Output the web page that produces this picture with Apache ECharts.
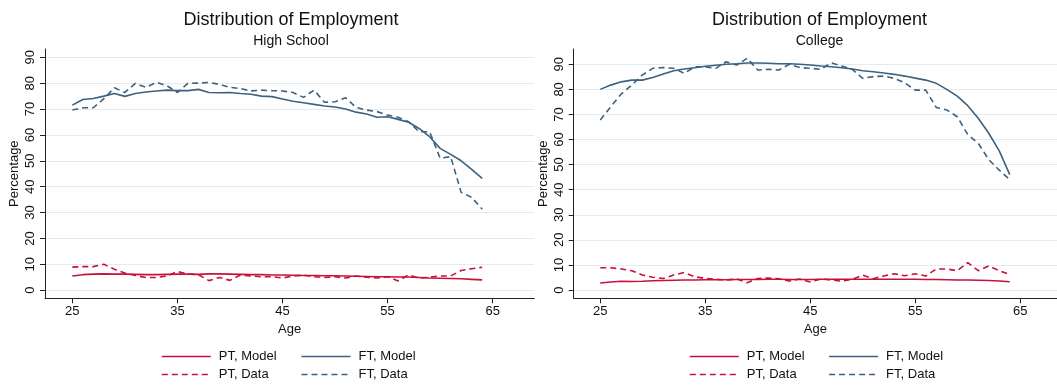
<!DOCTYPE html>
<html><head><meta charset="utf-8">
<script src="https://cdn.jsdelivr.net/npm/echarts@6/dist/echarts.min.js"></script>
<style>html,body{margin:0;padding:0;background:#fff}#c{width:1057px;height:385px}</style>
</head><body><div id="c"></div>
<script>
const ages = [25,26,27,28,29,30,31,32,33,34,35,36,37,38,39,40,41,42,43,44,45,46,47,48,49,50,51,52,53,54,55,56,57,58,59,60,61,62,63,64];
const yTicks = [0,10,20,30,40,50,60,70,80,90];
const xTicks = [25,35,45,55,65];
const seriesNames = ['PT, Model','FT, Model','PT, Data','FT, Data'];
const panelTitles = ['Distribution of Employment','Distribution of Employment'];
const panelSubtitles = ['High School','College'];

// High School
const hsPTModel = [5.5,6.0,6.2,6.3,6.2,6.2,6.1,6.0,6.0,6.1,6.2,6.2,6.1,6.3,6.3,6.2,6.1,6.0,6.0,5.9,5.9,5.8,5.7,5.7,5.6,5.6,5.5,5.4,5.3,5.2,5.2,5.1,5.1,4.9,4.7,4.6,4.5,4.4,4.2,4.0];
const hsFTModel = [71.5,73.7,74.1,75.0,76.0,74.9,76.0,76.6,77.0,77.3,77.1,77.1,77.6,76.4,76.3,76.4,76.0,75.7,75.0,74.8,73.9,73.0,72.4,71.8,71.2,70.8,70.0,68.8,68.1,66.8,67.0,66.0,64.9,62.5,59.3,54.8,52.5,50.0,46.7,43.2];
const hsPTData = [8.9,9.1,9.1,10.0,8.1,6.6,5.7,4.9,4.9,5.5,7.2,6.3,6.0,3.7,4.9,3.8,5.9,5.5,5.2,5.2,4.7,5.5,5.8,5.2,4.9,5.2,4.7,5.5,5.0,4.7,5.2,3.6,5.9,4.7,5.0,5.5,5.5,7.6,8.3,8.9];
const hsFTData = [69.6,70.5,70.5,74.0,78.2,76.4,79.9,78.4,80.3,79.0,76.4,79.9,80.0,80.3,79.5,78.4,77.9,77.0,77.3,77.1,77.0,76.4,74.5,77.3,72.6,72.8,74.4,70.6,69.6,69.0,67.7,66.8,65.1,61.2,61.2,51.0,51.6,37.8,35.9,31.3];

// College
const coPTModel = [2.8,3.2,3.5,3.4,3.5,3.7,3.8,3.9,4.0,4.0,4.1,4.1,4.1,4.2,4.2,4.2,4.3,4.3,4.2,4.2,4.2,4.3,4.3,4.3,4.3,4.3,4.3,4.3,4.3,4.3,4.3,4.2,4.2,4.1,4.0,4.0,3.9,3.8,3.6,3.3];
const coFTModel = [80.0,81.7,83.0,83.7,83.7,84.7,86.1,87.4,88.1,88.6,89.2,89.6,90.0,90.2,90.5,90.5,90.4,90.2,90.2,90.0,89.7,89.3,89.0,88.6,88.1,87.4,87.0,86.5,86.0,85.3,84.5,83.7,82.4,80.0,77.3,73.5,68.5,62.5,55.5,46.0];
const coPTData = [8.9,8.9,8.4,7.7,6.0,5.1,4.6,6.0,7.0,5.3,4.6,4.3,4.0,4.4,2.9,4.6,4.8,4.5,3.6,4.4,3.2,4.4,4.0,3.5,4.3,5.9,4.5,5.6,6.5,5.7,6.5,5.6,8.4,8.4,7.7,10.9,7.7,9.6,7.7,6.2];
const coFTData = [67.8,73.1,78.2,81.7,85.7,88.4,88.7,88.4,86.4,89.0,89.0,88.4,91.0,89.7,92.4,87.7,88.0,87.7,90.0,88.7,88.4,88.0,90.6,89.3,88.0,84.4,85.1,85.3,84.4,82.6,79.7,79.7,72.8,71.8,69.1,62.0,58.5,52.0,47.8,44.0];

const RED = '#c8103c', BLUE = '#3c6280';
const FONT = 'Liberation Sans, Arial, sans-serif';
const panels = [
  {vals:[hsPTModel,hsFTModel,hsPTData,hsFTData], grid:{left:45, top:49, width:489.3, height:249.3}, x:[22.4,68.96], y:[-3.13,93.2], tx:286, legX:[161,300.7]},
  {vals:[coPTModel,coFTModel,coPTData,coFTData], grid:{left:573.7, top:49, width:483.3, height:249.3}, x:[22.47,68.5], y:[-3.3,96.1], tx:814.5, legX:[689,828.3]}
];
const styles = [
  {color:RED, type:'solid'},{color:BLUE, type:'solid'},
  {color:RED, type:[6,4]},{color:BLUE, type:[6,4]}
];
// legend placement: [series index, column, row]
const legendCells = [[0,0,0],[1,1,0],[2,0,1],[3,1,1]];
const legendRowTop = [350,368];

const option = {
  animation:false,
  backgroundColor:'#fff',
  title:[], grid:[], xAxis:[], yAxis:[], series:[], legend:[]
};
panels.forEach((p,i)=>{
  option.title.push({text:panelTitles[i], left:p.tx, top:6, textAlign:'center',
    textStyle:{fontFamily:FONT, fontSize:18, fontWeight:'normal', color:'#111'}});
  option.title.push({text:panelSubtitles[i], left:p.tx, top:29, textAlign:'center',
    textStyle:{fontFamily:FONT, fontSize:14, fontWeight:'normal', color:'#111'}});
  option.grid.push(p.grid);
  option.xAxis.push({type:'value', gridIndex:i, min:p.x[0], max:p.x[1],
    name:'Age', nameLocation:'middle', nameGap:20,
    nameTextStyle:{fontFamily:FONT, fontSize:13, color:'#111'},
    axisLine:{show:true, onZero:false, lineStyle:{color:'#222', width:1}},
    axisTick:{show:true, length:5, customValues:xTicks, lineStyle:{color:'#222'}},
    axisLabel:{customValues:xTicks, fontFamily:FONT, fontSize:13, color:'#111', margin:7},
    splitLine:{show:false}});
  option.yAxis.push({type:'value', gridIndex:i, min:p.y[0], max:p.y[1],
    name:'Percentage', nameLocation:'middle', nameGap:24,
    nameTextStyle:{fontFamily:FONT, fontSize:13, color:'#111'},
    axisLine:{show:true, onZero:false, lineStyle:{color:'#222', width:1}},
    axisTick:{show:true, length:5, customValues:yTicks, lineStyle:{color:'#222'}},
    axisLabel:{customValues:yTicks, rotate:90, fontFamily:FONT, fontSize:13, color:'#111', margin:8},
    splitLine:{show:true, lineStyle:{color:'#e3ebee', width:1}}});
  p.vals.forEach((arr,k)=>{
    option.series.push({type:'line', name:seriesNames[k], xAxisIndex:i, yAxisIndex:i,
      data:ages.map((a,j)=>[a,arr[j]]), symbol:'none', showSymbol:false,
      lineStyle:{color:styles[k].color, width:1.6, type:styles[k].type},
      itemStyle:{color:styles[k].color}, z:2+k});
  });
  legendCells.forEach(([k,c,r])=>{
    option.legend.push({left:p.legX[c], top:legendRowTop[r], itemWidth:49, itemHeight:14, itemGap:0,
      data:[seriesNames[k]], selectedMode:false, padding:0,
      itemStyle:{color:'rgba(0,0,0,0)', borderColor:'rgba(0,0,0,0)', borderWidth:0, opacity:0},
      lineStyle:{color:styles[k].color, width:1.6, type:styles[k].type},
      textStyle:{fontFamily:FONT, fontSize:13, color:'#111', padding:[0,0,0,3]}});
  });
});
const chart = echarts.init(document.getElementById('c'), null, {renderer:'canvas'});
chart.setOption(option);
</script></body></html>
